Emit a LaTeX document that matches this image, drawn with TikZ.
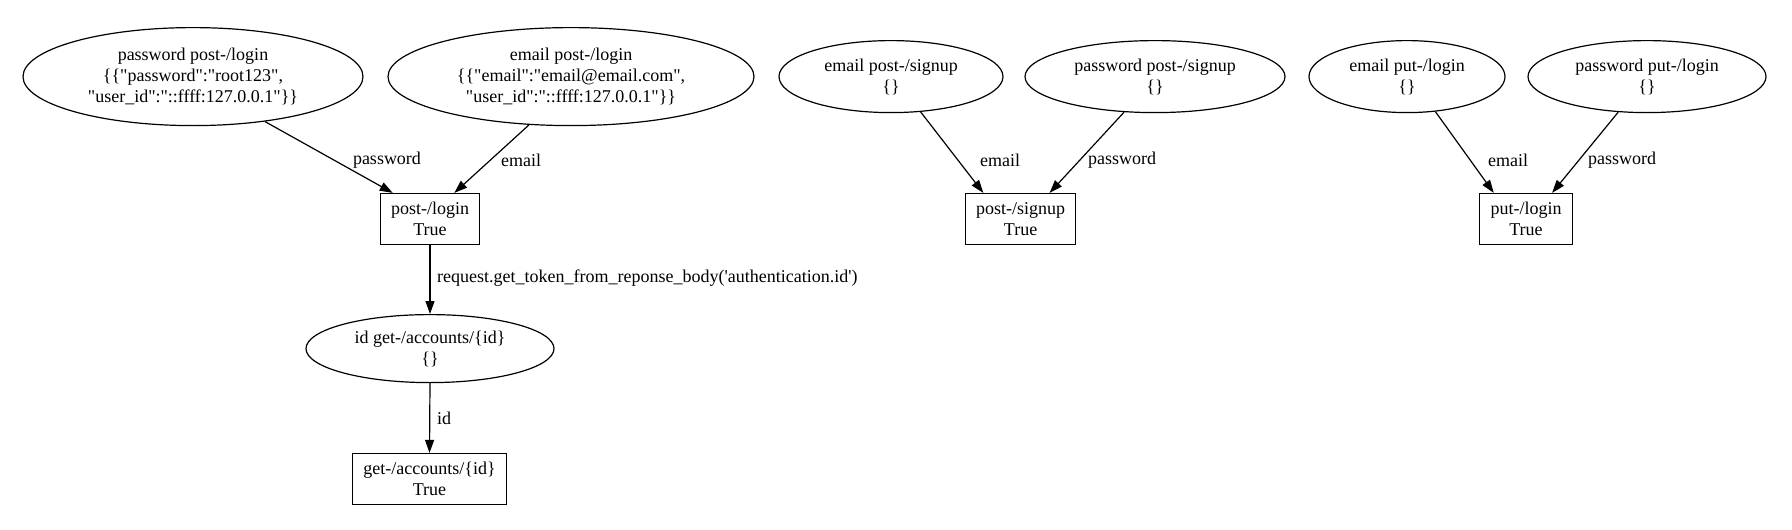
\documentclass[tikz,border=0pt]{standalone}
\usepackage{fontspec}
\setmainfont{Liberation Serif}[Ligatures=TeXOff]
\usetikzlibrary{shapes.geometric,arrows.meta}
\tikzset{
  txt/.style={font=\fontsize{18}{21}\selectfont, align=center},
  ell/.style={ellipse, draw, line width=1.2pt, inner sep=0pt, txt},
  res/.style={rectangle, draw, line width=1.2pt, inner sep=0pt, minimum height=51pt, txt},
  conn/.style={-{Triangle[length=13pt,width=9pt]}, line width=1.2pt},
  lbl/.style={txt, inner sep=0pt}
}
\begin{document}
\begin{tikzpicture}[x=1pt,y=-1pt]
\useasboundingbox (0,0) rectangle (1792,530);
% post-/login group
\node[ell, minimum width=340pt, minimum height=98pt] (pwlogin) at (193,76.6)
  {password post-/login\\\{\{"password":"root123",\\"user\_id":"::ffff:127.0.0.1"\}\}};
\node[ell, minimum width=366pt, minimum height=98pt] (emlogin) at (571,76.6)
  {email post-/login\\\{\{"email":"email@email.com",\\"user\_id":"::ffff:127.0.0.1"\}\}};
\node[res, minimum width=99pt] (postlogin) at (430,219) {post-/login\\True};
\node[ell, minimum width=248pt, minimum height=68pt] (idacc) at (430,348.6) {id get-/accounts/\{id\}\\\{\}};
\node[res, minimum width=154pt] (getacc) at (429.5,479) {get-/accounts/\{id\}\\True};
\draw[conn] (pwlogin.-32) -- (postlogin.145);
\draw[conn] (emlogin.-131) -- (postlogin.47);
\draw[conn] (postlogin.south) -- (idacc.north);
\draw[conn] (idacc.south) -- (getacc.north);
\node[lbl] (l1) at (387,160) {password};
\node[lbl] (l2) at (521,160) {email};
\node[lbl, anchor=west] (l3) at (437,278) {request.get\_token\_from\_reponse\_body('authentication.id')};
\node[lbl, anchor=west] (l4) at (437,418) {id};
% post-/signup group
\node[ell, minimum width=224pt, minimum height=72pt] (emsignup) at (891,76.6) {email post-/signup\\\{\}};
\node[ell, minimum width=260pt, minimum height=72pt] (pwsignup) at (1155,76.6) {password post-/signup\\\{\}};
\node[res, minimum width=110pt] (postsignup) at (1020.6,219) {post-/signup\\True};
\draw[conn] (emsignup.-50.7) -- (postsignup.145.9);
\draw[conn] (pwsignup.-131.8) -- (postsignup.42.9);
\node[lbl] (l5) at (1000,160) {email};
\node[lbl] (l6) at (1122,160) {password};
% put-/login group
\node[ell, minimum width=196pt, minimum height=72pt] (emput) at (1407,76.6) {email put-/login\\\{\}};
\node[ell, minimum width=238pt, minimum height=72pt] (pwput) at (1647,76.6) {password put-/login\\\{\}};
\node[res, minimum width=93pt] (putlogin) at (1526,219) {put-/login\\True};
\draw[conn] (emput.-51.3) -- (putlogin.141.7);
\draw[conn] (pwput.-129.3) -- (putlogin.45.6);
\node[lbl] (l7) at (1508,160) {email};
\node[lbl] (l8) at (1622,160) {password};
\end{tikzpicture}
\end{document}
